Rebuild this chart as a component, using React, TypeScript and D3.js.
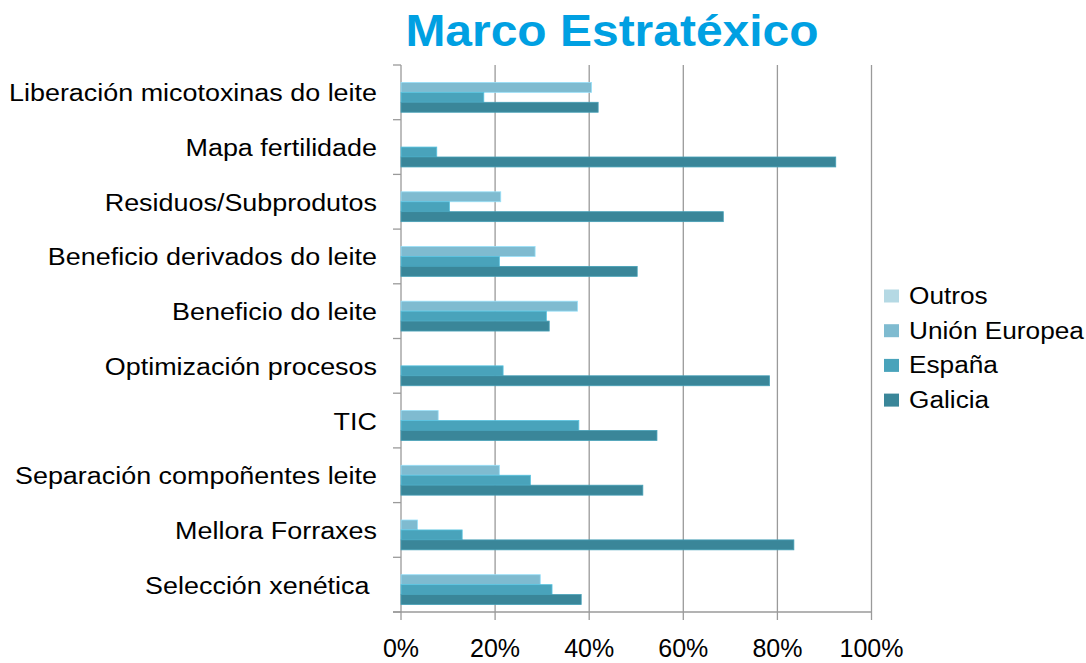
import React, { useEffect, useRef } from "react";
import * as d3 from "d3";

// categories, top to bottom as shown
const categories = [
  "Liberación micotoxinas do leite",
  "Mapa fertilidade",
  "Residuos/Subprodutos",
  "Beneficio derivados do leite",
  "Beneficio do leite",
  "Optimización procesos",
  "TIC",
  "Separación compoñentes leite",
  "Mellora Forraxes",
  "Selección xenética ",
];

const seriesNames = ["Outros", "Unión Europea", "España", "Galicia"];

// values in %
const outros = [0, 0, 0, 0, 0, 0, 0, 0, 0, 0];
const unionEuropea = [40.5, 0, 21.2, 28.5, 37.5, 0, 7.9, 20.9, 3.5, 29.6];
const espana = [17.6, 7.6, 10.3, 20.9, 30.9, 21.7, 37.8, 27.5, 13.0, 32.1];
const galicia = [41.9, 92.4, 68.5, 50.2, 31.5, 78.3, 54.4, 51.4, 83.5, 38.3];

const tickValues = [0, 20, 40, 60, 80, 100];

const colors = ["#b5d9e4", "#7fbbd0", "#49a3bb", "#3a8699"];

const W = 1086;
const H = 663;

// the source text is a bit wider than Arial, stretch it
function stretch(sel: d3.Selection<SVGTextElement, any, any, any>, k: number) {
  sel.each(function () {
    const len = this.getComputedTextLength();
    d3.select(this)
      .attr("textLength", len * k)
      .attr("lengthAdjust", "spacingAndGlyphs");
  });
}

const App = () => {
  const svgRef = useRef<SVGSVGElement>(null);

  useEffect(() => {
    const svg = d3.select(svgRef.current);
    svg.selectAll("*").remove();

    const left = 401;
    const right = 871.5;
    const top = 65;
    const bottom = 612;
    const font = "'Liberation Sans', Arial, sans-serif";

    const x = d3.scaleLinear().domain([0, 100]).range([left, right]);
    const y = d3.scaleBand<string>().domain(categories).range([top, bottom]);
    const inner = d3
      .scaleBand<string>()
      .domain(seriesNames)
      .range([0, y.bandwidth()])
      .paddingOuter(0.75);

    const allSeries = [outros, unionEuropea, espana, galicia];

    // title
    const title = svg
      .append("text")
      .attr("x", 612)
      .attr("y", 46)
      .attr("text-anchor", "middle")
      .attr("font-family", font)
      .attr("font-weight", "bold")
      .attr("font-size", 44)
      .attr("fill", "#00a0e2")
      .text("Marco Estratéxico");
    stretch(title, 1.09);

    // grid lines
    svg
      .append("g")
      .selectAll("line")
      .data(tickValues)
      .join("line")
      .attr("x1", (d) => x(d))
      .attr("x2", (d) => x(d))
      .attr("y1", top)
      .attr("y2", bottom + 8)
      .attr("stroke", "#9a9a9a")
      .attr("stroke-width", 1.3);

    // bottom axis line
    svg
      .append("line")
      .attr("x1", left - 8)
      .attr("x2", right)
      .attr("y1", bottom)
      .attr("y2", bottom)
      .attr("stroke", "#9a9a9a")
      .attr("stroke-width", 1.3);

    // category ticks
    const catTicks = d3.range(categories.length + 1).map((i) => top + i * y.step());
    svg
      .append("g")
      .selectAll("line")
      .data(catTicks)
      .join("line")
      .attr("x1", left - 8)
      .attr("x2", left)
      .attr("y1", (d) => d)
      .attr("y2", (d) => d)
      .attr("stroke", "#9a9a9a")
      .attr("stroke-width", 1.3);

    // bars
    allSeries.forEach((vals, si) => {
      svg
        .append("g")
        .selectAll("rect")
        .data(vals.map((v, i) => ({ v, c: categories[i] })))
        .join("rect")
        .filter((d) => d.v > 0)
        .attr("x", left)
        .attr("y", (d) => (y(d.c) as number) + (inner(seriesNames[si]) as number))
        .attr("width", (d) => x(d.v) - left)
        .attr("height", inner.bandwidth())
        .attr("fill", colors[si])
        .attr("stroke", d3.color(colors[si])!.brighter(0.5).formatHex())
        .attr("stroke-width", 0.8);
    });

    // category labels
    const labels = svg
      .append("g")
      .selectAll("text")
      .data(categories)
      .join("text")
      .attr("x", 377)
      .attr("y", (d) => (y(d) as number) + y.bandwidth() / 2 + 9)
      .attr("text-anchor", "end")
      .attr("font-family", font)
      .attr("font-size", 23)
      .attr("fill", "#000")
      .style("white-space", "pre")
      .text((d) => d);
    stretch(labels as any, 1.17);

    // x tick labels
    svg
      .append("g")
      .selectAll("text")
      .data(tickValues)
      .join("text")
      .attr("x", (d) => x(d))
      .attr("y", 657)
      .attr("text-anchor", "middle")
      .attr("font-family", font)
      .attr("font-size", 25)
      .attr("fill", "#000")
      .text((d) => `${d}%`);

    // legend
    const legend = svg
      .append("g")
      .selectAll("g")
      .data(seriesNames)
      .join("g")
      .attr("transform", (d, i) => `translate(884, ${296 + i * 34.7})`);
    legend
      .append("rect")
      .attr("x", 0)
      .attr("y", -6.5)
      .attr("width", 15)
      .attr("height", 13)
      .attr("fill", (d, i) => colors[i]);
    const legendText = legend
      .append("text")
      .attr("x", 25)
      .attr("y", 8)
      .attr("font-family", font)
      .attr("font-size", 23)
      .attr("fill", "#000")
      .text((d) => d);
    stretch(legendText as any, 1.14);
  }, []);

  return (
    <svg
      ref={svgRef}
      width={W}
      height={H}
      style={{ position: "absolute", left: 0, top: 0, background: "#fff" }}
    />
  );
};

export default App;
